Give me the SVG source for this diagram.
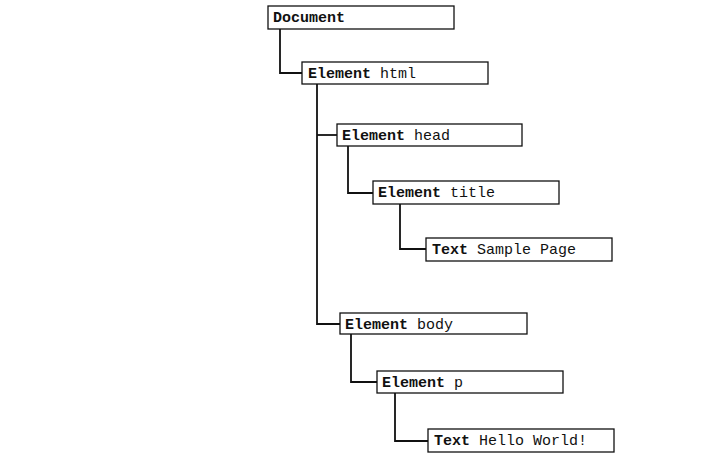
<svg xmlns="http://www.w3.org/2000/svg" width="722" height="466" viewBox="0 0 722 466">
<style>
.box{fill:#fff;stroke:#111;stroke-width:1.3}
.lbl{font-family:"Liberation Mono","Courier New",monospace;font-size:15px;fill:#111}
.b{font-weight:bold}
.con{fill:none;stroke:#111;stroke-width:1.8}
</style>
<rect width="722" height="466" fill="#fff"/>
<g id="connectors">
<path class="con" d="M280,29 V73 H302"/>
<path class="con" d="M317,84 V324 H340"/>
<path class="con" d="M317,135 H337"/>
<path class="con" d="M348,146 V193 H373"/>
<path class="con" d="M400,204 V249 H426"/>
<path class="con" d="M351,334 V382 H377"/>
<path class="con" d="M395,393 V441 H428"/>
</g>
<g id="document"><rect class="box" x="268" y="6" width="186" height="23"/><text class="lbl" x="273" y="22"><tspan class="b">Document</tspan></text></g>
<g id="html"><rect class="box" x="302" y="62" width="186" height="22"/><text class="lbl" x="308" y="78"><tspan class="b">Element</tspan> html</text></g>
<g id="head"><rect class="box" x="337" y="124" width="185" height="22"/><text class="lbl" x="342" y="140"><tspan class="b">Element</tspan> head</text></g>
<g id="title"><rect class="box" x="373" y="181" width="186" height="23"/><text class="lbl" x="378" y="197"><tspan class="b">Element</tspan> title</text></g>
<g id="text1"><rect class="box" x="426" y="238" width="186" height="23"/><text class="lbl" x="432" y="254"><tspan class="b">Text</tspan> Sample Page</text></g>
<g id="body"><rect class="box" x="340" y="313" width="187" height="21"/><text class="lbl" x="345" y="329"><tspan class="b">Element</tspan> body</text></g>
<g id="p"><rect class="box" x="377" y="371" width="186" height="22"/><text class="lbl" x="382" y="387"><tspan class="b">Element</tspan> p</text></g>
<g id="text2"><rect class="box" x="428" y="429" width="186" height="23"/><text class="lbl" x="434" y="445"><tspan class="b">Text</tspan> Hello World!</text></g>
</svg>
